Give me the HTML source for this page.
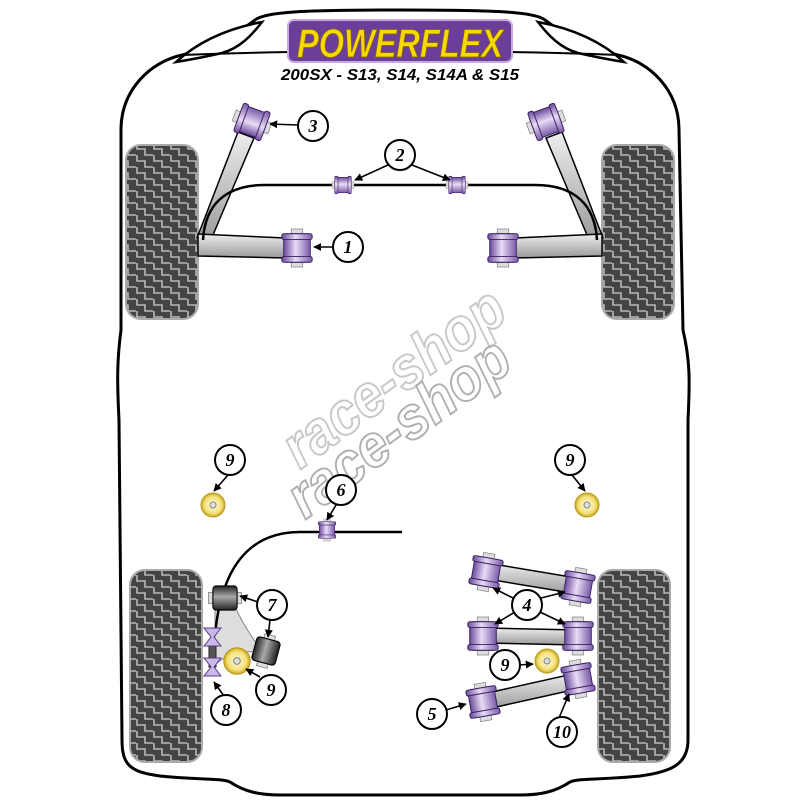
<!DOCTYPE html>
<html><head><meta charset="utf-8"><style>
html,body{margin:0;padding:0;background:#fff;}
svg{display:block;}
</style></head><body>
<svg width="800" height="800" viewBox="0 0 800 800" xmlns="http://www.w3.org/2000/svg">
<defs>
<pattern id="tread" width="17" height="12" patternUnits="userSpaceOnUse">
<rect width="17" height="12" fill="#444"/>
<path d="M1,0 V5 H9 V11 H17 M1,12 V11" stroke="#b8b8b8" stroke-width="1.6" fill="none"/>
</pattern>
<linearGradient id="pur" x1="0" x2="1">
<stop offset="0" stop-color="#6a4a9a"/><stop offset="0.45" stop-color="#e8dcf6"/><stop offset="1" stop-color="#7a5aa8"/>
</linearGradient>
<linearGradient id="blk" x1="0" x2="1">
<stop offset="0" stop-color="#222"/><stop offset="0.45" stop-color="#aaa"/><stop offset="1" stop-color="#222"/>
</linearGradient>
<radialGradient id="yel"><stop offset="0" stop-color="#fffbe0"/><stop offset="0.7" stop-color="#f4e27a"/><stop offset="1" stop-color="#c9a820"/></radialGradient>
<linearGradient id="arm" x1="0" y1="0" x2="0" y2="1"><stop offset="0" stop-color="#eee"/><stop offset="1" stop-color="#999"/></linearGradient>
<g id="bush">
<rect x="-6" y="-20" width="12" height="40" fill="#ddd" stroke="#888" stroke-width="0.8"/>
<rect x="-14" y="-15" width="28" height="30" rx="3" fill="url(#pur)" stroke="#3a2060" stroke-width="1"/>
<rect x="-16" y="-15" width="32" height="6" rx="2" fill="url(#pur)" stroke="#3a2060" stroke-width="1"/>
<rect x="-16" y="9" width="32" height="6" rx="2" fill="url(#pur)" stroke="#3a2060" stroke-width="1"/>
</g>
<g id="bushb">
<rect x="-5" y="-15" width="10" height="30" fill="#ddd" stroke="#888" stroke-width="0.8"/>
<rect x="-11" y="-11" width="22" height="22" rx="3" fill="url(#blk)" stroke="#000" stroke-width="1"/>
</g>
<g id="disc">
<circle r="12" fill="url(#yel)" stroke="#b89a20" stroke-width="1"/>
<circle r="3" fill="#ddd" stroke="#888" stroke-width="1"/>
</g>
<marker id="ah" viewBox="0 0 10 10" refX="9" refY="5" markerWidth="5" markerHeight="5" orient="auto"><path d="M0,0 L10,5 L0,10 z" fill="#000"/></marker>
</defs>

<path d="M121,130 C121,90 150,62 182,55 C215,48 235,35 255,20 C265,12 300,10 400,10 C500,10 535,12 545,20 C565,35 585,48 618,55 C650,62 679,90 679,130 L683,330 C690,360 690,380 688,420 L688,740 C688,765 670,772 640,776 C600,780 580,778 570,782 C555,792 540,795 520,795 L280,795 C260,795 245,792 230,782 C220,778 200,780 160,776 C130,772 122,765 122,740 L119,420 C117,380 117,360 121,330 Z" fill="#fff" stroke="#000" stroke-width="3"/>
<path d="M176,62 C200,40 230,28 262,22 C252,35 240,48 222,53 C205,57 188,60 176,62 Z" fill="#fff" stroke="#000" stroke-width="2.5"/>
<path d="M624,62 C600,40 570,28 538,22 C548,35 560,48 578,53 C595,57 612,60 624,62 Z" fill="#fff" stroke="#000" stroke-width="2.5"/>
<path d="M182,55 C300,50 500,50 618,55" fill="none" stroke="#000" stroke-width="2"/>

<rect x="288" y="20" width="224" height="42" rx="6" fill="#6b3f99" stroke="#c8a8e0" stroke-width="2"/>
<text x="400" y="57" text-anchor="middle" font-family="Liberation Sans, sans-serif" font-weight="bold" font-style="italic" font-size="40" fill="#f7d800" stroke="#8a6a00" stroke-width="0.8" textLength="206" lengthAdjust="spacingAndGlyphs">POWERFLEX</text>
<text x="400" y="80" text-anchor="middle" font-family="Liberation Sans, sans-serif" font-weight="bold" font-style="italic" font-size="16" fill="#000" textLength="238" lengthAdjust="spacingAndGlyphs">200SX - S13, S14, S14A &amp; S15</text>

<rect x="126" y="145" width="72" height="174" rx="15" fill="url(#tread)" stroke="#aaa" stroke-width="2"/>
<rect x="602" y="145" width="72" height="174" rx="15" fill="url(#tread)" stroke="#aaa" stroke-width="2"/>
<rect x="130" y="570" width="72" height="192" rx="15" fill="url(#tread)" stroke="#aaa" stroke-width="2"/>
<rect x="598" y="570" width="72" height="192" rx="15" fill="url(#tread)" stroke="#aaa" stroke-width="2"/>

<g font-family="Liberation Sans, sans-serif" font-weight="bold" font-style="italic" font-size="60" fill="none" stroke="#c8c8c8" stroke-width="2">
<text transform="translate(300,470) rotate(-36)" textLength="260" lengthAdjust="spacingAndGlyphs">race-shop</text>
<text transform="translate(305,520) rotate(-36)" textLength="260" lengthAdjust="spacingAndGlyphs" stroke="#b0b0b0">race-shop</text>
</g>

<path d="M238,132 L254,138 L210,242 L197,238 Z" fill="url(#arm)" stroke="#000" stroke-width="1.5"/>
<path d="M562,132 L546,138 L590,242 L603,238 Z" fill="url(#arm)" stroke="#000" stroke-width="1.5"/>
<path d="M198,234 L285,238 L285,258 L198,256 Z" fill="url(#arm)" stroke="#000" stroke-width="1.5"/>
<path d="M602,234 L515,238 L515,258 L602,256 Z" fill="url(#arm)" stroke="#000" stroke-width="1.5"/>
<path d="M203,240 C205,205 225,185 265,185 L535,185 C575,185 595,205 597,240" fill="none" stroke="#000" stroke-width="2.5"/>
<use href="#bush" transform="translate(252,122) rotate(-70) scale(0.95)"/>
<use href="#bush" transform="translate(546,122) rotate(70) scale(0.95)"/>
<use href="#bush" transform="translate(297,248) scale(0.95)"/>
<use href="#bush" transform="translate(503,248) scale(0.95)"/>
<use href="#bush" transform="translate(343,185) rotate(90) scale(0.55)"/>
<use href="#bush" transform="translate(457,185) rotate(90) scale(0.55)"/>

<path d="M215,600 L232,600 C245,630 255,640 262,652 C240,650 225,655 215,665 Z" fill="#ddd" stroke="#888" stroke-width="1"/>
<path d="M300,532 L402,532" stroke="#000" stroke-width="2.5"/>
<path d="M300,532 C255,532 222,560 215,635" fill="none" stroke="#000" stroke-width="2.5"/>
<use href="#bush" transform="translate(327,530) scale(0.55)"/>
<use href="#bushb" transform="translate(225,598) rotate(90) scale(1.1)"/>
<use href="#bushb" transform="translate(266,651) rotate(15) scale(1.1)"/>
<rect x="209" y="640" width="7" height="27" fill="#555" stroke="#222"/>
<path d="M204,628 L221,628 L214,637 L221,646 L204,646 L211,637 Z" fill="#c8b8e8" stroke="#5a3a8a"/>
<path d="M204,658 L221,658 L214,667 L221,676 L204,676 L211,667 Z" fill="#c8b8e8" stroke="#5a3a8a"/>
<use href="#disc" transform="translate(237,661) scale(1.1)"/>
<use href="#disc" transform="translate(213,505)"/>
<use href="#disc" transform="translate(587,505)"/>
<use href="#disc" transform="translate(547,661)"/>

<path d="M487,563 L577,578 L577,594 L487,579 Z" fill="url(#arm)" stroke="#000" stroke-width="1.5"/>
<path d="M484,628 L577,630 L577,645 L484,643 Z" fill="url(#arm)" stroke="#000" stroke-width="1.5"/>
<path d="M483,694 L577,673 L577,689 L483,710 Z" fill="url(#arm)" stroke="#000" stroke-width="1.5"/>
<use href="#bush" transform="translate(486,572) rotate(10) scale(0.95)"/>
<use href="#bush" transform="translate(578,587) rotate(10) scale(0.95)"/>
<use href="#bush" transform="translate(483,636) scale(0.95)"/>
<use href="#bush" transform="translate(578,636) scale(0.95)"/>
<use href="#bush" transform="translate(483,702) rotate(-10) scale(0.95)"/>
<use href="#bush" transform="translate(578,679) rotate(-10) scale(0.95)"/>

<g stroke="#000" stroke-width="1.6" fill="none" marker-end="url(#ah)">
<path d="M298,125 L270,124"/>
<path d="M388,165 L355,180"/>
<path d="M412,165 L450,180"/>
<path d="M333,247 L314,247"/>
<path d="M228,475 L214,491"/>
<path d="M572,475 L585,491"/>
<path d="M336,505 L327,520"/>
<path d="M258,602 L240,596"/>
<path d="M270,620 L268,637"/>
<path d="M224,696 L214,682"/>
<path d="M260,677 L246,669"/>
<path d="M513,598 L493,588"/>
<path d="M541,598 L565,592"/>
<path d="M515,612 L495,624"/>
<path d="M540,612 L565,624"/>
<path d="M519,665 L533,664"/>
<path d="M446,710 L466,704"/>
<path d="M559,718 L569,694"/>
</g>
<g font-family="Liberation Serif, serif" font-weight="bold" font-style="italic" font-size="18" text-anchor="middle">
<g fill="#fff" stroke="#000" stroke-width="2">
<circle cx="313" cy="126" r="15"/><circle cx="400" cy="155" r="15"/><circle cx="348" cy="247" r="15"/>
<circle cx="230" cy="460" r="15"/><circle cx="570" cy="460" r="15"/><circle cx="341" cy="490" r="15"/>
<circle cx="272" cy="605" r="15"/><circle cx="226" cy="710" r="15"/><circle cx="271" cy="690" r="15"/>
<circle cx="527" cy="605" r="15"/><circle cx="505" cy="665" r="15"/><circle cx="432" cy="714" r="15"/><circle cx="562" cy="732" r="15"/>
</g>
<text x="313" y="132">3</text><text x="400" y="161">2</text><text x="348" y="253">1</text>
<text x="230" y="466">9</text><text x="570" y="466">9</text><text x="341" y="496">6</text>
<text x="272" y="611">7</text><text x="226" y="716">8</text><text x="271" y="696">9</text>
<text x="527" y="611">4</text><text x="505" y="671">9</text><text x="432" y="720">5</text><text x="562" y="738">10</text>
</g>
</svg>
</body></html>
